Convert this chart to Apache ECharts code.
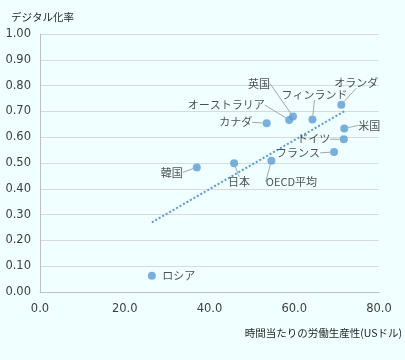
<!DOCTYPE html>
<html>
<head>
<meta charset="utf-8">
<script src="https://cdn.jsdelivr.net/npm/echarts@6/dist/echarts.min.js"></script>
<style>
html,body{margin:0;padding:0;background:#F0FFFF;}
#chart{width:405px;height:360px;}
</style>
</head>
<body>
<div id="chart"></div>
<script>
// Data
var countries = ['ロシア','韓国','日本','OECD平均','カナダ','オーストラリア','英国','フィンランド','オランダ','米国','ドイツ','フランス'];
var productivity = [26.4, 37.0, 45.8, 54.6, 53.5, 58.8, 59.7, 64.3, 71.1, 71.8, 71.7, 69.4];
var digitalRate = [0.063, 0.483, 0.499, 0.509, 0.654, 0.667, 0.680, 0.669, 0.726, 0.634, 0.592, 0.543];
var trendX = [26.4, 72.0];
var trendY = [0.270, 0.702];
var xTicks = [0, 20, 40, 60, 80];
var yTicks = [0, 0.1, 0.2, 0.3, 0.4, 0.5, 0.6, 0.7, 0.8, 0.9, 1.0];

// label offsets (style only): dx, dy, show leader line
var labelOffsets = {
  'ロシア': [27, 0, false],
  '韓国': [-25, 5, true],
  '日本': [5, 19, true],
  'OECD平均': [20, 21, true],
  'カナダ': [-31, -1, true],
  'オーストラリア': [-63, -15, true],
  '英国': [-34, -33, true],
  'フィンランド': [2, -25, true],
  'オランダ': [15, -22, true],
  '米国': [25, -3, true],
  'ドイツ': [-30, 0, true],
  'フランス': [-36, 1, true]
};

var FONT = '"Noto Sans CJK JP", "Noto Sans", sans-serif';
var NUMFONT = '"DejaVu Sans", sans-serif';
var scatterData = countries.map(function (c, i) {
  var o = labelOffsets[c];
  return { name: c, value: [productivity[i], digitalRate[i]], labelLine: { show: o[2] } };
});

var chart = echarts.init(document.getElementById('chart'), null, {renderer: 'canvas'});
chart.setOption({
  backgroundColor: '#F0FFFF',
  animation: false,
  grid: { left: 40, right: 26, top: 34, bottom: 68 },
  xAxis: {
    type: 'value', min: xTicks[0], max: xTicks[xTicks.length - 1], interval: xTicks[1] - xTicks[0],
    name: '時間当たりの労働生産性(USドル)',
    nameLocation: 'end', nameGap: 23,
    nameTextStyle: { fontFamily: FONT, fontSize: 10.5, color: '#262626', align: 'right', verticalAlign: 'top', padding: [36, 0, 0, 0] },
    axisLine: { show: true, lineStyle: { color: '#BFBFBF' } },
    axisTick: { show: false },
    splitLine: { show: false },
    axisLabel: { fontFamily: NUMFONT, fontSize: 11.5, color: '#404040', margin: 11,
      formatter: function (v) { return v.toFixed(1); } }
  },
  yAxis: {
    type: 'value', min: yTicks[0], max: yTicks[yTicks.length - 1], interval: 0.1,
    name: 'デジタル化率',
    nameLocation: 'end', nameGap: 12,
    nameTextStyle: { fontFamily: FONT, fontSize: 10.5, color: '#262626', align: 'left', padding: [0, 0, 0, -29] },
    axisLine: { show: true, lineStyle: { color: '#BFBFBF' } },
    axisTick: { show: false },
    splitLine: { show: true, lineStyle: { color: '#D9D9D9' } },
    axisLabel: { fontFamily: NUMFONT, fontSize: 11.5, color: '#404040', margin: 9,
      formatter: function (v) { return v.toFixed(2); } }
  },
  series: [
    {
      type: 'line',
      data: trendX.map(function (x, i) { return [x, trendY[i]]; }),
      symbol: 'none',
      lineStyle: { type: 'dotted', color: '#5B9BD5', width: 2 },
      z: 1,
      silent: true
    },
    {
      type: 'scatter',
      data: scatterData,
      symbolSize: 8,
      itemStyle: { color: '#5B9BD5' },
      z: 3,
      label: {
        show: true, position: 'inside',
        formatter: '{b}',
        fontFamily: FONT, fontSize: 11, color: '#262626'
      },
      labelLine: { show: true, lineStyle: { color: '#A6A6A6', width: 1 } },
      labelLayout: function (params) {
        var o = labelOffsets[params.text] || [0, 0, false];
        return { dx: o[0], dy: o[1] };
      }
    }
  ]
});
</script>
</body>
</html>
